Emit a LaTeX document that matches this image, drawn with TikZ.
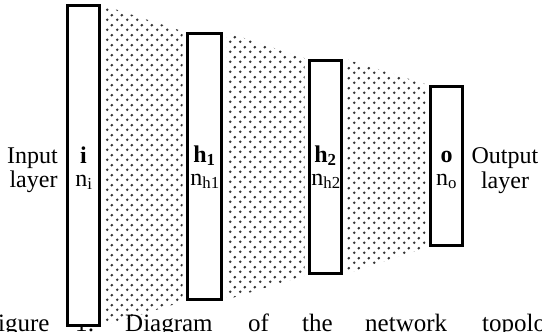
\documentclass[tikz,border=0pt]{standalone}
\usepackage{fontspec}
\setmainfont{Liberation Serif}
\usetikzlibrary{patterns,calc}
\pgfdeclarelayer{background}
\pgfsetlayers{background,main}
\pgfdeclarepatternformonly{hexdots}{\pgfqpoint{0pt}{0pt}}{\pgfqpoint{9.5pt}{9.5pt}}{\pgfqpoint{9.5pt}{9.5pt}}{%
  \pgfpathcircle{\pgfqpoint{2.375pt}{2.375pt}}{1.5pt}%
  \pgfpathcircle{\pgfqpoint{7.125pt}{7.125pt}}{1.5pt}%
  \pgfusepath{fill}}
\tikzset{
  layerbox/.style={draw, line width=2.6pt, fill=white, inner sep=0pt},
  dotzone/.style={pattern=hexdots, pattern color=black!80},
  lbl/.style={font=\fontsize{24}{26}\selectfont, inner sep=0pt, anchor=base},
  capword/.style={font=\fontsize{25}{28}\selectfont, inner sep=0pt, anchor=base west},
}
\begin{document}
\begin{tikzpicture}[x=1pt,y=-1pt]
\useasboundingbox (0,0) rectangle (542,332);
% layer boxes
\node[layerbox, minimum width=32pt, minimum height=320pt] (i)  at (83.5,165.5) {};
\node[layerbox, minimum width=34pt, minimum height=266pt] (h1) at (204.5,166.5) {};
\node[layerbox, minimum width=32pt, minimum height=213pt] (h2) at (325.5,167) {};
\node[layerbox, minimum width=32pt, minimum height=159pt] (o)  at (446.5,166) {};
\begin{pgfonlayer}{background}
  \fill[dotzone] ($(i.north east)+(3.5,1.5)$) -- ($(h1.north west)+(-3.5,-1)$)
     -- ($(h1.south west)+(-3.5,1)$) -- ($(i.south east)+(3.5,-1)$) -- cycle;
  \fill[dotzone] ($(h1.north east)+(3.5,0)$) -- ($(h2.north west)+(-3.5,-1)$)
     -- ($(h2.south west)+(-3.5,1)$) -- ($(h1.south east)+(3.5,-1)$) -- cycle;
  \fill[dotzone] ($(h2.north east)+(3.5,0)$) -- ($(o.north west)+(-3.5,-1)$)
     -- ($(o.south west)+(-3.5,1)$) -- ($(h2.south east)+(3.5,-1)$) -- cycle;
  \begin{scope}
    \clip (0,0) rectangle (542,332);
    \node[capword] (c1) at (-16,331) {Figure};
    \node[capword] (c2) at (75,331) {1:};
    \node[capword] (c3) at (125,331) {Diagram};
    \node[capword] (c4) at (248,331) {of};
    \node[capword] (c5) at (302,331) {the};
    \node[capword] (c6) at (365,331) {network};
    \node[capword] (c7) at (482,331) {topology};
  \end{scope}
\end{pgfonlayer}
% texts inside boxes
\node[lbl] (ti)  at (83.5,163) {\textbf{i}};
\node[lbl] (ni)  at (84,186) {n\textsubscript{i}};
\node[lbl] (th1) at (204.5,162) {\textbf{h\textsubscript{1}}};
\node[lbl] (nh1) at (205,185) {n\textsubscript{h1}};
\node[lbl] (th2) at (325.5,162) {\textbf{h\textsubscript{2}}};
\node[lbl] (nh2) at (326,185) {n\textsubscript{h2}};
\node[lbl] (to)  at (446.5,162) {\textbf{o}};
\node[lbl] (no)  at (446.5,185) {n\textsubscript{o}};
% side labels
\node[lbl] (in1) at (32.5,163) {Input};
\node[lbl] (in2) at (33.5,187) {layer};
\node[lbl] (out1) at (505,163) {Output};
\node[lbl] (out2) at (505,188) {layer};
\end{tikzpicture}
\end{document}
